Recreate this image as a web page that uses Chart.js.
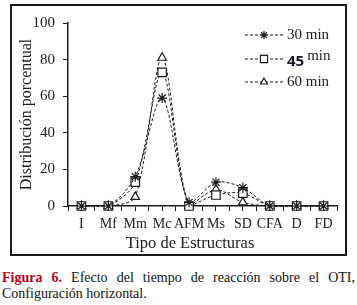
<!DOCTYPE html>
<html>
<head>
<meta charset="utf-8">
<script src="https://cdn.jsdelivr.net/npm/chart.js@4.4.1/dist/chart.umd.min.js"></script>
<style>
  body { margin: 0; background: #fff; width: 357px; height: 305px; position: relative; overflow: hidden; font-family: "Liberation Serif", "Times New Roman", serif; }
  #frame { position: absolute; left: 10px; top: 4px; width: 333px; height: 248px; border: 2px solid #1a1a1a; }
  #caption { position: absolute; left: 2px; top: 270px; width: 353px; font-size: 14px; line-height: 16px; text-align: justify; color: #111; }
  #caption b { color: #c0001c; }
</style>
</head>
<body>
<div id="frame"><canvas id="myChart" width="333" height="248"></canvas></div>
<div id="caption"><b>Figura 6.</b> Efecto del tiempo de reacción sobre el OTI, Configuración horizontal.</div>
<script>
const categories = ['I', 'Mf', 'Mm', 'Mc', 'AFM', 'Ms', 'SD', 'CFA', 'D', 'FD'];
const min30 = [0, 0, 16, 59, 2, 13, 10, 0, 0, 0];
const min45 = [0, 0, 13, 73, 0, 6, 7, 0, 0, 0];
const min60 = [0, 0, 5, 81, 0, 9, 2, 0, 0, 0];
const yTicks = [0, 20, 40, 60, 80, 100];

const serif = "'Liberation Serif', 'Times New Roman', serif";
const ink = '#1c1c1c';

const toPoints = vals => vals.map((v, i) => ({ x: i, y: v }));

// legend + x title drawn by hand, the "45" in the legend uses another font
const legendPlugin = {
  id: 'handLegend',
  afterDraw(chart) {
    const ctx = chart.ctx;
    const rows = [
      { ds: 0, y: 29, label: '30 min' },
      { ds: 1, y: 53, label: '45' },
      { ds: 2, y: 76, label: '60 min' }
    ];
    ctx.save();
    rows.forEach(row => {
      const ds = chart.data.datasets[row.ds];
      ctx.strokeStyle = ink;
      ctx.lineWidth = 1;
      ctx.setLineDash([3, 2]);
      ctx.beginPath();
      ctx.moveTo(233, row.y);
      ctx.lineTo(271, row.y);
      ctx.stroke();
      ctx.setLineDash([]);
      ctx.fillStyle = '#fff';
      ctx.strokeStyle = ink;
      ctx.lineWidth = 1.2;
      Chart.helpers.drawPoint(ctx, {
        pointStyle: ds.pointStyle,
        radius: ds.pointRadius - 1,
        borderWidth: 1.2
      }, 252, row.y);
      ctx.textBaseline = 'middle';
      ctx.textAlign = 'left';
      if (row.ds === 1) {
        ctx.fillStyle = '#141428';
        ctx.font = "bold 15px 'Open Sans', 'Liberation Sans', sans-serif";
        ctx.fillText('45', 275, row.y + 3);
        const w = ctx.measureText('45').width;
        ctx.fillStyle = ink;
        ctx.font = '15px ' + serif;
        ctx.fillText('min', 275 + w + 3, row.y - 3);
      } else {
        ctx.fillStyle = ink;
        ctx.font = '15px ' + serif;
        ctx.fillText(row.label, 275, row.y);
      }
    });
    // x axis title, sits left of centre in the original
    ctx.fillStyle = ink;
    ctx.font = '16.5px ' + serif;
    ctx.textAlign = 'center';
    ctx.textBaseline = 'middle';
    ctx.fillText('Tipo de Estructuras', 178, 238);
    ctx.restore();
  }
};

const lineStyle = {
  borderColor: ink,
  borderWidth: 1,
  borderDash: [3, 2],
  tension: 0.3,
  pointBorderColor: ink,
  pointBackgroundColor: '#fff',
  pointBorderWidth: 1.2,
  fill: false,
  clip: false
};

const ctx = document.getElementById('myChart').getContext('2d');
const myChart = new Chart(ctx, {
  type: 'line',
  data: {
    datasets: [
      { ...lineStyle, label: '30 min', data: toPoints(min30), pointStyle: 'star', pointRadius: 5 },
      { ...lineStyle, label: '45 min', data: toPoints(min45), pointStyle: 'rect', pointRadius: 6 },
      { ...lineStyle, label: '60 min', data: toPoints(min60), pointStyle: 'triangle', pointRadius: 5 }
    ]
  },
  options: {
    responsive: false,
    animation: false,
    layout: { padding: { top: 15, right: 8, left: 0, bottom: 0 } },
    plugins: {
      legend: { display: false },
      tooltip: { enabled: false }
    },
    scales: {
      x: {
        type: 'linear',
        min: -0.5,
        max: 9.5,
        afterFit: scale => { scale.height = 48; },
        ticks: {
          stepSize: 0.5,
          autoSkip: false,
          maxRotation: 0,
          padding: 5,
          color: ink,
          font: { family: serif, size: 14 },
          callback: v => Math.abs(v - Math.round(v)) < 1e-6 ? categories[Math.round(v)] : ''
        },
        grid: { drawOnChartArea: false, drawTicks: true, tickLength: 5, color: ink },
        border: { color: ink, width: 1.5 }
      },
      y: {
        min: 0,
        max: 100,
        afterFit: scale => { scale.width = 56; },
        afterBuildTicks: scale => { scale.ticks = yTicks.map(v => ({ value: v })); },
        ticks: {
          padding: 8,
          color: ink,
          font: { family: serif, size: 15 }
        },
        grid: { drawOnChartArea: false, drawTicks: true, tickLength: 5, color: ink },
        border: { color: ink, width: 1.5 },
        title: {
          display: true,
          text: 'Distribución porcentual',
          color: ink,
          font: { family: serif, size: 16 },
          padding: { top: 5, bottom: 0 }
        }
      }
    }
  },
  plugins: [legendPlugin]
});
</script>
</body>
</html>
